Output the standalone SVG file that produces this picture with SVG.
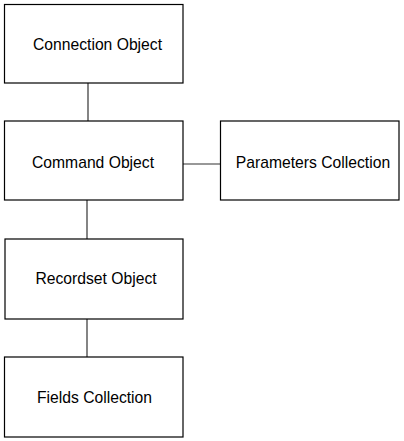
<svg xmlns="http://www.w3.org/2000/svg" width="404" height="441" viewBox="0 0 404 441">
<style>
.box{fill:#fff;stroke:#000;stroke-width:1.2}
.lbl{font-family:"Liberation Sans",Arial,sans-serif;font-size:15.7px;fill:#000;text-anchor:middle}
.con{stroke:#333;stroke-width:1.2;fill:none}
</style>
<rect width="404" height="441" fill="#fff"/>
<g id="connectors">
<line class="con" x1="88" y1="83" x2="88" y2="121"/>
<line class="con" x1="183" y1="164" x2="220" y2="164"/>
<line class="con" x1="87" y1="200" x2="87" y2="239"/>
<line class="con" x1="87" y1="319" x2="87" y2="357"/>
</g>
<g id="connection"><rect class="box" x="4.5" y="4.5" width="178.5" height="78.5"/><text class="lbl" x="97.5" y="50">Connection Object</text></g>
<g id="command"><rect class="box" x="4.5" y="121" width="178.5" height="79"/><text class="lbl" x="93" y="168">Command Object</text></g>
<g id="parameters"><rect class="box" x="220.5" y="121" width="178.5" height="79"/><text class="lbl" x="313" y="168">Parameters Collection</text></g>
<g id="recordset"><rect class="box" x="5" y="239" width="178" height="80"/><text class="lbl" x="96" y="284">Recordset Object</text></g>
<g id="fields"><rect class="box" x="4.5" y="357" width="178.5" height="80"/><text class="lbl" x="94.5" y="403">Fields Collection</text></g>
</svg>
